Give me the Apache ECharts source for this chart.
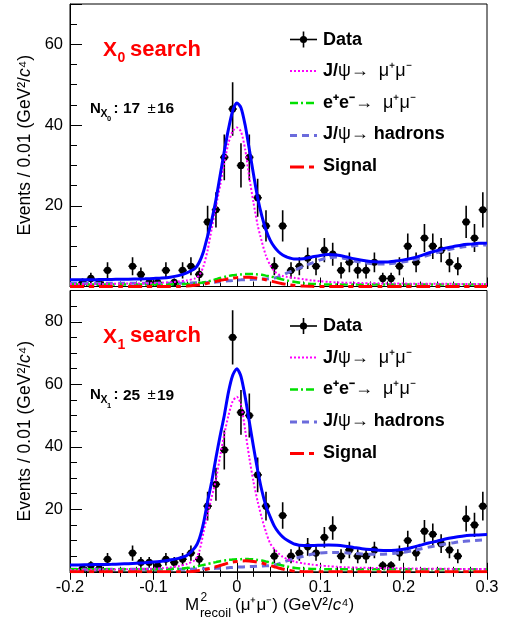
<!DOCTYPE html>
<html><head><meta charset="utf-8">
<script src="https://cdn.jsdelivr.net/npm/echarts@6/dist/echarts.min.js"></script>
<style>html,body{margin:0;padding:0;background:#fff}#c{width:508px;height:624px}</style>
</head><body><div id="c"></div>
<script>
// ---------- data ----------
const binCenters = [-0.195,-0.185,-0.175,-0.165,-0.155,-0.145,-0.135,-0.125,-0.115,-0.105,
  -0.095,-0.085,-0.075,-0.065,-0.055,-0.045,-0.035,-0.025,-0.015,-0.005,
  0.005,0.015,0.025,0.035,0.045,0.055,0.065,0.075,0.085,0.095,
  0.105,0.115,0.125,0.135,0.145,0.155,0.165,0.175,0.185,0.195,
  0.205,0.215,0.225,0.235,0.245,0.255,0.265,0.275,0.285,0.295];
const countsX0 = [0,1,2,1,4,0,0,5,3,1, 1,4,1,4,5,3,16,19,32,44, 30,32,22,15,5,15,4,5,7,5, 9,8,4,6,4,4,6,2,2,5, 10,6,12,10,9,6,5,16,12,19];
const countsX1 = [0,1,2,1,4,0,0,6,3,3, 2,4,3,4,6,4,21,28,39,75, 51,50,31,21,5,18,5,6,8,6, 11,14,5,7,5,5,7,2,2,6, 10,6,13,12,9,7,5,17,15,21];

const curveX = [-0.2,-0.19,-0.18,-0.17,-0.16,-0.15,-0.14,-0.13,-0.12,-0.11,-0.1,-0.09,-0.08,-0.07,-0.06,
  -0.05,-0.045,-0.04,-0.035,-0.03,-0.025,-0.02,-0.015,-0.01,-0.005,0,0.005,0.01,0.015,0.02,0.025,0.03,0.035,0.04,0.045,0.05,0.055,
  0.06,0.07,0.08,0.09,0.1,0.11,0.12,0.13,0.14,0.15,0.16,0.17,0.18,0.19,0.2,0.21,0.22,0.23,0.24,0.25,0.26,0.27,0.28,0.29,0.3];

// X0 search fit components
const x0Total = [1.7,1.7,1.7,1.7,1.75,1.75,1.8,1.8,1.85,1.9,2.0,2.1,2.3,2.7,3.4,
  4.5,6.0,8.6,12.5,16.5,21.5,27.5,33.5,39.0,43.5,45.5,44.3,40.0,34.0,27.8,22.0,17.5,14.0,11.5,9.8,8.6,7.8,
  7.3,6.8,6.9,7.3,7.7,7.9,7.8,7.4,6.9,6.5,6.2,6.1,6.1,6.3,6.6,7.0,7.6,8.3,8.9,9.5,9.9,10.3,10.5,10.7,10.8];
const x0JpsiMuMu = [0.6,0.6,0.62,0.63,0.65,0.67,0.7,0.72,0.75,0.8,0.85,0.95,1.05,1.25,1.5,
  2.0,2.8,5.0,9.0,14.4,19.8,25.0,30.7,35.5,38.5,39.4,38.4,34.0,27.0,20.8,15.2,11.1,7.6,5.3,3.8,3.0,2.6,
  2.4,2.1,1.8,1.5,1.3,1.15,1.0,0.95,0.9,0.85,0.8,0.78,0.75,0.73,0.72,0.7,0.7,0.68,0.67,0.66,0.65,0.64,0.63,0.62,0.6];
const x0EeMuMu = [0.5,0.5,0.5,0.5,0.5,0.5,0.5,0.5,0.5,0.5,0.5,0.5,0.52,0.55,0.6,
  0.75,0.85,1.0,1.25,1.5,1.8,2.1,2.35,2.6,2.8,2.9,3.0,3.1,3.1,3.1,3.0,2.9,2.7,2.5,2.25,2.0,1.75,
  1.5,1.1,0.8,0.65,0.55,0.5,0.5,0.5,0.5,0.5,0.5,0.5,0.5,0.5,0.5,0.5,0.5,0.5,0.5,0.5,0.5,0.5,0.5,0.5,0.5];
const x0JpsiHadrons = [0.8,0.8,0.8,0.8,0.8,0.8,0.8,0.8,0.8,0.8,0.8,0.8,0.8,0.82,0.85,
  0.9,0.92,0.95,1.0,1.05,1.1,1.2,1.3,1.4,1.5,1.6,1.65,1.7,1.75,1.8,1.82,1.85,1.88,1.95,2.1,2.4,2.8,
  3.3,4.1,5.0,5.8,6.6,7.1,7.3,6.9,6.4,6.0,5.7,5.6,5.6,5.8,6.1,6.5,7.1,7.8,8.4,9.0,9.4,9.8,10.0,10.2,10.3];
const x0Signal = [0,0,0,0,0,0,0,0,0,0,0,0,0,0,0.1,
  0.3,0.45,0.6,0.8,1.0,1.25,1.5,1.7,1.9,2.05,2.2,2.25,2.3,2.28,2.2,2.05,1.9,1.65,1.4,1.15,0.9,0.7,
  0.5,0.25,0.1,0.04,0,0,0,0,0,0,0,0,0,0,0,0,0,0,0,0,0,0,0,0,0];

// X1 search fit components
const x1Total = [2.2,2.2,2.25,2.3,2.35,2.4,2.5,2.6,2.75,2.9,3.1,3.4,3.8,4.3,5.2,
  7.8,10.5,15.5,22.5,29.0,36.5,43.5,50.0,57.5,62.8,65.0,62.5,56.0,48.0,40.0,32.5,26.0,21.0,17.6,14.6,12.6,11.2,
  10.2,8.8,8.4,8.4,8.5,8.6,8.5,8.2,7.8,7.4,7.1,6.9,6.8,6.9,7.2,7.8,8.5,9.2,9.8,10.5,11.0,11.4,11.7,11.8,11.9];
const x1JpsiMuMu = [0.6,0.62,0.64,0.66,0.7,0.72,0.76,0.8,0.85,0.92,1.0,1.15,1.4,1.8,2.5,
  3.8,6.5,12.5,18.5,24.0,29.5,37.0,44.0,50.0,54.5,56.0,53.5,45.4,36.5,28.8,22.5,17.2,12.7,9.1,7.3,5.9,4.8,
  4.1,3.2,2.7,2.3,2.0,1.8,1.6,1.45,1.35,1.3,1.25,1.2,1.15,1.1,1.1,1.05,1.0,1.0,0.97,0.95,0.93,0.92,0.9,0.9,0.88];
const x1EeMuMu = [0.8,0.8,0.8,0.8,0.8,0.8,0.8,0.8,0.8,0.8,0.8,0.8,0.9,1.0,1.2,
  1.6,1.9,2.2,2.5,2.8,3.1,3.4,3.6,3.8,3.9,4.0,4.05,4.1,4.05,4.0,3.8,3.6,3.3,3.0,2.65,2.3,2.0,
  1.7,1.2,1.0,0.9,0.85,0.8,0.8,0.8,0.8,0.8,0.8,0.8,0.8,0.8,0.8,0.8,0.8,0.8,0.8,0.8,0.8,0.8,0.8,0.8,0.8];
const x1JpsiHadrons = [0.8,0.8,0.8,0.8,0.8,0.8,0.8,0.8,0.8,0.8,0.8,0.8,0.8,0.8,0.8,
  0.9,0.92,0.95,1.0,1.05,1.1,1.15,1.2,1.3,1.4,1.5,1.55,1.6,1.65,1.7,1.8,1.85,1.9,2.0,2.2,2.5,3.0,
  3.5,4.3,5.0,5.6,6.0,6.2,6.2,6.1,5.9,5.7,5.6,5.6,5.7,5.9,6.2,6.7,7.3,7.9,8.4,8.9,9.3,9.7,9.9,10.1,10.2];
const x1Signal = [0,0,0,0,0,0,0,0,0,0,0,0,0,0,0,
  0.2,0.4,0.6,0.9,1.2,1.6,2.0,2.4,2.8,3.1,3.3,3.45,3.5,3.45,3.3,3.1,2.8,2.4,2.0,1.6,1.2,0.9,
  0.6,0.2,0.05,0,0,0,0,0,0,0,0,0,0,0,0,0,0,0,0,0,0,0,0,0,0];

const xTickLabels = ['-0.2','-0.1','0','0.1','0.2','0.3'];
const legendLabels = ['{b|Data}', '{b|J/}{s|ψ→  μ⁺μ⁻}', '{b|e⁺e⁻}{s|→  μ⁺μ⁻}', '{b|J/}{s|ψ→ }{b|hadrons}', '{b|Signal}'];
const panelNames = ['0', '1'];
const yields = [['17', '16'], ['25', '19']];

// ---------- styles ----------
const FONT = 'Liberation Sans, Arial, Helvetica, sans-serif';
const compStyles = [
  {key: 'had', color: '#6b6bdc', type: [7, 5], width: 3},
  {key: 'ee', color: '#00e000', type: [8, 3, 2, 3], width: 2.5},
  {key: 'mm', color: '#ff00ff', type: [2, 2], width: 2},
  {key: 'sig', color: '#ff0000', type: [14, 5, 5, 5], width: 3},
  {key: 'tot', color: '#0000ff', type: 'solid', width: 3}
];
const panels = [
  {counts: countsX0, comps: {had: x0JpsiHadrons, ee: x0EeMuMu, mm: x0JpsiMuMu, sig: x0Signal, tot: x0Total}, ymax: 70},
  {counts: countsX1, comps: {had: x1JpsiHadrons, ee: x1EeMuMu, mm: x1JpsiMuMu, sig: x1Signal, tot: x1Total}, ymax: 90}
];

function pairs(xs, ys) { return xs.map((x, i) => [x, ys[i]]); }
function pts(counts) { return binCenters.map((x, i) => [x, counts[i]]).filter(p => p[1] > 0); }

function renderPoint(params, api) {
  const x = api.value(0), n = api.value(1);
  const e = Math.sqrt(n);
  const c = api.coord([x, n]);
  const t = api.coord([x, n + e]);
  const b = api.coord([x, Math.max(n - e, 0)]);
  const l = api.coord([x - 0.005, n]);
  const r = api.coord([x + 0.005, n]);
  return {type: 'group', children: [
    {type: 'line', shape: {x1: c[0], y1: t[1], x2: c[0], y2: b[1]}, style: {stroke: '#000', lineWidth: 1.6}},
    {type: 'line', shape: {x1: l[0], y1: c[1], x2: r[0], y2: c[1]}, style: {stroke: '#000', lineWidth: 1.6}},
    {type: 'circle', shape: {cx: c[0], cy: c[1], r: 3.6}, style: {fill: '#000'}}
  ]};
}

const grids = [
  {left: 70, top: 4, width: 417, height: 282.5, show: true, borderColor: '#000', borderWidth: 1, backgroundColor: 'transparent'},
  {left: 70, top: 290.5, width: 417, height: 281.3, show: true, borderColor: '#000', borderWidth: 1, backgroundColor: 'transparent'}
];

function xAxisDef(gi, showLabels, position) {
  return {
    type: 'value', gridIndex: gi, min: -0.2, max: 0.3, interval: 0.1, position: position,
    axisLine: {show: true, onZero: false, lineStyle: {color: '#000', width: 1}},
    axisTick: {show: true, inside: true, length: position === 'top' ? 8 : 9, lineStyle: {color: '#000', width: 1}},
    minorTick: {show: true, splitNumber: 5, length: 5, lineStyle: {color: '#000', width: 1}},
    splitLine: {show: false},
    axisLabel: {show: showLabels, fontFamily: FONT, fontSize: 16.5, color: '#000', margin: 7,
      formatter: v => xTickLabels[Math.round((v + 0.2) * 10)]}
  };
}
function yAxisDef(gi, ymax) {
  return {
    type: 'value', gridIndex: gi, min: 0, max: ymax, interval: 20, position: 'left',
    axisLine: {show: true, onZero: false, lineStyle: {color: '#000', width: 1}},
    axisTick: {show: true, inside: true, length: 12, lineStyle: {color: '#000', width: 1}},
    minorTick: {show: true, splitNumber: 4, length: 7, lineStyle: {color: '#000', width: 1}},
    splitLine: {show: false},
    axisLabel: {fontFamily: FONT, fontSize: 16.5, color: '#000', margin: 7, showMinLabel: false, showMaxLabel: false,
      formatter: v => (v > 0 && v % 20 === 0) ? String(v) : ''},
    name: 'Events / 0.01 (GeV²/{i|c}⁴)', nameLocation: 'middle', nameGap: 30, nameRotate: 90,
    nameTextStyle: {fontFamily: FONT, fontSize: 17.5, color: '#000', rich: {i: {fontFamily: FONT, fontSize: 17.5, fontStyle: 'italic'}}}
  };
}

const series = [];
panels.forEach((p, gi) => {
  series.push({type: 'custom', xAxisIndex: gi, yAxisIndex: gi, data: pts(p.counts), renderItem: renderPoint, z: 2, clip: true});
  compStyles.forEach(cs => {
    series.push({type: 'line', xAxisIndex: gi, yAxisIndex: gi, data: pairs(curveX, p.comps[cs.key]), smooth: 0.25,
      showSymbol: false, symbol: 'none', z: 3, clip: true,
      lineStyle: {color: cs.color, width: cs.width, type: cs.type}});
  });
});

// ---------- texts & legend (graphic) ----------
const graphic = [];
function txt(x, y, text, size, opts) {
  opts = opts || {};
  graphic.push({type: 'text', x: x, y: y, z: 10, style: Object.assign({
    text: text, fontFamily: FONT, fontSize: size, fontWeight: opts.weight || 'bold', fill: opts.color || '#000',
    align: 'left', verticalAlign: 'middle'}, opts.rich ? {rich: opts.rich} : {})});
}
const legendSymY = [39.5, 71, 103, 135.5, 167];
const legendTxtY = [40, 71.5, 103, 134.5, 166.5];
const legendOrder = ['data', 'mm', 'ee', 'had', 'sig'];
[0, 286.5].forEach((dy, pi) => {
  // panel title
  txt(103, 50.5 + dy, 'X', 21, {color: '#ff0000'});
  txt(117.5, 58.5 + dy, panelNames[pi], 14, {color: '#ff0000'});
  txt(130, 49.8 + dy, 'search', 22, {color: '#ff0000'});
  // yield
  txt(90, 108.8 + dy, 'N', 15);
  txt(100.5, 114 + dy, 'X', 10.5);
  txt(107, 119 + dy, panelNames[pi], 7.5);
  txt(113.5, 108.8 + dy, ':', 15);
  txt(123, 108.8 + dy, yields[pi][0], 15.5);
  txt(147.5, 108.8 + dy, '±', 15, {weight: 'normal'});
  txt(157, 108.8 + dy, yields[pi][1], 15.5);
  // legend
  legendOrder.forEach((k, j) => {
    const ys = legendSymY[j] + dy;
    if (k === 'data') {
      graphic.push({type: 'line', z: 10, shape: {x1: 290, y1: ys, x2: 317, y2: ys}, style: {stroke: '#000', lineWidth: 1.6}});
      graphic.push({type: 'line', z: 10, shape: {x1: 303.5, y1: ys - 8, x2: 303.5, y2: ys + 8}, style: {stroke: '#000', lineWidth: 1.6}});
      graphic.push({type: 'circle', z: 10, shape: {cx: 303.5, cy: ys, r: 3.6}, style: {fill: '#000'}});
    } else {
      const cs = compStyles.find(c => c.key === k);
      graphic.push({type: 'line', z: 10, shape: {x1: 290, y1: ys, x2: 317, y2: ys},
        style: {stroke: cs.color, lineWidth: cs.width, lineDash: cs.type === 'solid' ? null : cs.type}});
    }
    txt(323, legendTxtY[j] + dy, legendLabels[j], 18, {rich: {
      b: {fontFamily: FONT, fontSize: 18, fontWeight: 'bold', fill: '#000'},
      s: {fontFamily: FONT, fontSize: 18, fontWeight: 'normal', fill: '#000'}}});
  });
});
// x axis title
txt(185, 605.5, 'M', 17, {weight: 'normal'});
txt(200.5, 597.5, '2', 12, {weight: 'normal'});
txt(200, 613.5, 'recoil', 13, {weight: 'normal'});
txt(235, 605.5, '{n|(μ⁺μ⁻) (GeV²/}{i|c}{n|⁴)}', 17, {weight: 'normal', rich: {
  n: {fontFamily: FONT, fontSize: 17, fill: '#000'},
  i: {fontFamily: FONT, fontSize: 17, fontStyle: 'italic', fill: '#000'}}});

const chart = echarts.init(document.getElementById('c'), null, {renderer: 'canvas'});
chart.setOption({
  animation: false,
  backgroundColor: '#fff',
  grid: grids,
  xAxis: [xAxisDef(0, false, 'bottom'), xAxisDef(1, true, 'bottom'), Object.assign(xAxisDef(1, false, 'top'), {axisLine: {show: false}})],
  yAxis: [yAxisDef(0, 70), yAxisDef(1, 90)],
  series: series,
  graphic: graphic
});
</script></body></html>
